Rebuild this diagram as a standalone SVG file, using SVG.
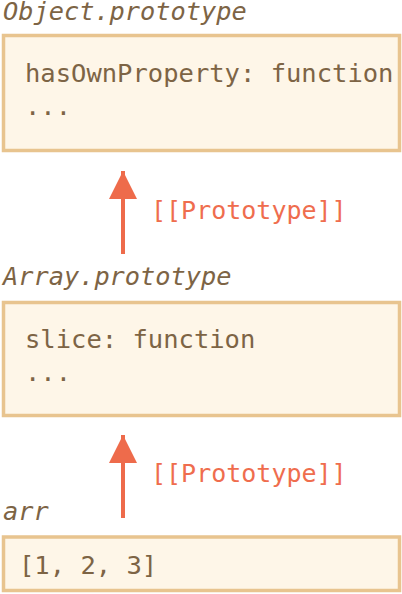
<svg xmlns="http://www.w3.org/2000/svg" width="402" height="594" viewBox="0 0 402 594">
<style>
.box{fill:#FEF6E8;stroke:#E8C48F;stroke-width:3.5}
.code{font-family:"DejaVu Sans Mono","Liberation Mono",monospace;font-size:25.5px;fill:#7D6445}
.title{font-family:"DejaVu Sans Mono","Liberation Mono",monospace;font-size:25.3px;font-style:italic;fill:#7D6445}
.lbl{font-family:"DejaVu Sans Mono","Liberation Mono",monospace;font-size:25px;fill:#EF6D4E}
.arrow{stroke:#EE6B4B;stroke-width:4;fill:none}
</style>
<defs>
<marker id="ah" markerUnits="userSpaceOnUse" markerWidth="30" markerHeight="30" refX="28" refY="14" orient="auto">
<path d="M0,0 L28,14 L0,28 Z" fill="#EE6B4B"/>
</marker>
</defs>
<g id="object-prototype">
<text class="title" x="3" y="20">Object.prototype</text>
<rect class="box" x="3.5" y="35.5" width="396" height="115"/>
<text class="code" x="25" y="82">hasOwnProperty: function</text>
<text class="code" x="25" y="115">...</text>
</g>
<g id="array-prototype">
<text class="title" x="3" y="285">Array.prototype</text>
<rect class="box" x="3.5" y="302.5" width="396" height="113"/>
<text class="code" x="25" y="348">slice: function</text>
<text class="code" x="25" y="381">...</text>
</g>
<g id="arr">
<text class="title" x="3" y="520">arr</text>
<rect class="box" x="3.5" y="537" width="396" height="53.5"/>
<text class="code" x="19" y="574">[1, 2, 3]</text>
</g>
<g id="connectors">
<line class="arrow" x1="123" y1="254" x2="123" y2="171" marker-end="url(#ah)"/>
<text class="lbl" x="151" y="219">[[Prototype]]</text>
<line class="arrow" x1="123" y1="518" x2="123" y2="435" marker-end="url(#ah)"/>
<text class="lbl" x="151" y="482">[[Prototype]]</text>
</g>
</svg>
